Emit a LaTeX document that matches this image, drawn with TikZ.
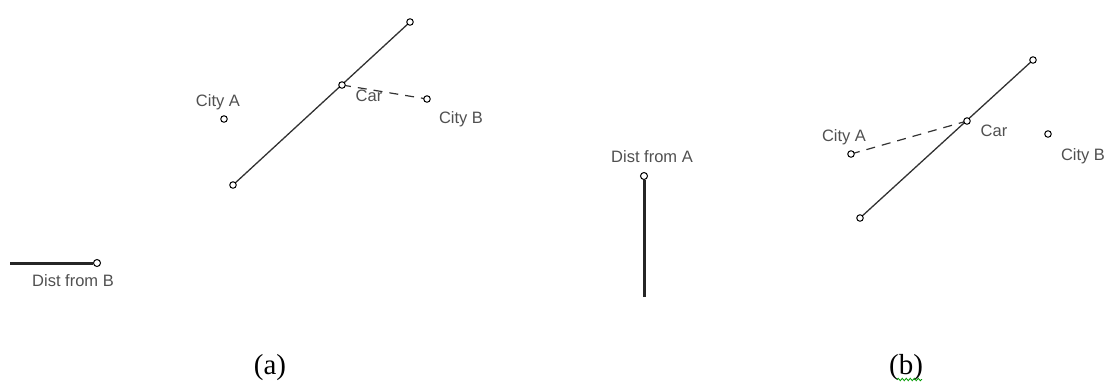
\documentclass[tikz,border=0pt]{standalone}
\usepackage{fontspec}
\setmainfont{Liberation Serif}
\newfontfamily\lblfont{Liberation Sans}
\usetikzlibrary{decorations.pathmorphing}
\definecolor{txtgray}{RGB}{80,80,80}
\definecolor{linegray}{RGB}{50,50,50}
\tikzset{
  pt/.style={circle,draw=black,fill=white,line width=1pt,inner sep=0pt,minimum size=6.5pt},
  lbl/.style={font=\lblfont\fontsize{16.5}{18}\selectfont,text=txtgray,anchor=base,inner sep=0pt},
  captext/.style={font=\fontsize{29}{32}\selectfont,anchor=base,inner sep=0pt},
  road/.style={draw=linegray,line width=1.3pt},
  dist/.style={draw=black!85,line width=3pt},
  sight/.style={draw=black!80,line width=1.2pt,dash pattern=on 9pt off 7pt}
}
\begin{document}
\begin{tikzpicture}[x=1pt,y=-1pt]
\useasboundingbox (0,0) rectangle (1106,381);
% ---- panel (a)
\coordinate (aLo) at (233,185);
\coordinate (aHi) at (410,22);
\coordinate (aCarC) at (342,85);
\coordinate (aBc) at (427,99);
\draw[road] (aLo) -- (aHi);
\draw[sight] (aCarC) -- (aBc);
\node[pt] (aLoP) at (aLo) {};
\node[pt] (aHiP) at (aHi) {};
\node[pt] (aCar) at (aCarC) {};
\node[pt] (aB) at (aBc) {};
\node[pt] (aA) at (224,119) {};
\node[lbl] (aAl) at (218,106) {City A};
\node[lbl] (aCarl) at (369,101) {Car};
\node[lbl] (aBl) at (461,123) {City B};
% distance from B
\coordinate (dBs) at (10,263);
\node[pt,minimum size=7pt] (dBe) at (97,263) {};
\draw[dist] (dBs) -- (dBe.west);
\node[lbl] (dBl) at (73,286) {Dist from B};
% ---- distance from A
\coordinate (dAs) at (644,297);
\node[pt,minimum size=7pt] (dAe) at (644,176) {};
\draw[dist] (dAs) -- (dAe.south);
\node[lbl] (dAl) at (652,162) {Dist from A};
% ---- panel (b)
\coordinate (bLo) at (860,218);
\coordinate (bHi) at (1033,60);
\coordinate (bCarC) at (967,121);
\coordinate (bAc) at (851,154);
\draw[road] (bLo) -- (bHi);
\draw[sight] (bAc) -- (bCarC);
\node[pt] (bLoP) at (bLo) {};
\node[pt] (bHiP) at (bHi) {};
\node[pt] (bCar) at (bCarC) {};
\node[pt] (bA) at (bAc) {};
\node[pt] (bB) at (1048,134) {};
\node[lbl] (bAl) at (844,141) {City A};
\node[lbl] (bCarl) at (994,136) {Car};
\node[lbl] (bBl) at (1083,160) {City B};
% ---- captions
\node[captext] (capa) at (270,374) {(a)};
\node[captext] (capb) at (906,374) {(b)};
\draw[green!60!black,line width=0.8pt,decorate,decoration={snake,amplitude=1.2pt,segment length=4pt}]
  (897,379.5) -- (922,379.5);
\end{tikzpicture}
\end{document}
